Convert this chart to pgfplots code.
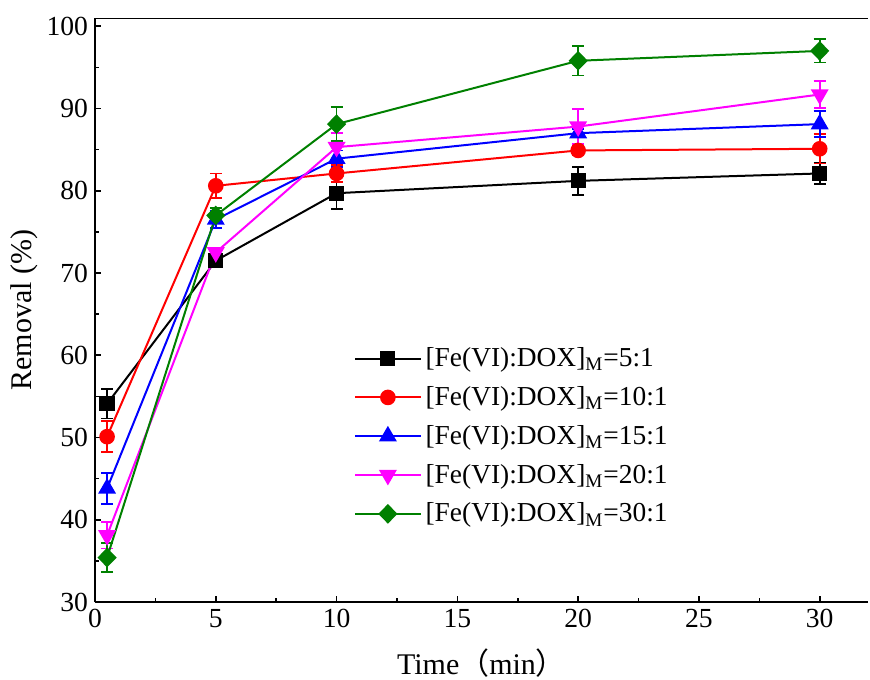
\documentclass[border=0pt]{standalone}
\usepackage{pgfplots}
\pgfplotsset{compat=1.18}
\usepackage{fontspec}
\setmainfont{Liberation Serif}
\newfontfamily\cjk{Noto Sans CJK SC}

\definecolor{cgreen}{RGB}{0,128,0}
\definecolor{cmag}{RGB}{255,0,255}
\definecolor{cred}{RGB}{255,0,0}
\definecolor{cblue}{RGB}{0,0,255}
\newcommand{\ratio}[1]{\relax{}[Fe(VI):DOX]\textsubscript{M}=#1}

\begin{document}
\begin{tikzpicture}
\begin{axis}[
    scale only axis,
    anchor=south west, at={(0,0)},
    width=386.5pt, height=292pt,
    xmin=0, xmax=32, ymin=30, ymax=101,
    xtick={0,5,...,30}, ytick={30,40,...,100},
    minor x tick num=1, minor y tick num=1,
    xtick pos=left, ytick pos=left,
    axis x line*=bottom, axis y line*=left,
    axis line style={line width=1pt},
    every tick/.style={black, line width=0.8pt},
    major tick length=3pt, minor tick length=1.8pt,
    tick label style={font=\fontsize{13.8}{15}\selectfont},
    /pgf/number format/assume math mode=true,
    xlabel={Time{\cjk （}min{\cjk ）}},
    ylabel={Removal (\%)},
    label style={font=\fontsize{15}{17}\selectfont},
    xlabel style={at={(axis description cs:0.5,-0.104)}, anchor=center},
    ylabel style={at={(axis description cs:-0.091,0.5)}, anchor=center},
    legend style={draw=none, fill=none, at={(0.327,0.45)}, anchor=north west,
        font=\fontsize{13.7}{16}\selectfont, row sep=4.4pt,
        /tikz/every even column/.append style={column sep=2pt}},
    legend cell align=left,
    legend image code/.code={
        \draw[#1, mark repeat=2, mark phase=2] plot coordinates {(0cm,0cm) (0.575cm,0cm) (1.15cm,0cm)};},
    every axis plot/.append style={line width=1pt},
    error bars/y dir=both, error bars/y explicit,
    error bars/error bar style={line width=0.9pt},
    error bars/error mark options={rotate=90, mark size=3pt, line width=0.9pt},
]
\addplot[black, mark=square*, mark size=3.3pt, mark options={solid}] coordinates {
    (0.5,54.1) +- (0,1.8)
    (5,71.5) +- (0,0.8)
    (10,79.7) +- (0,1.9)
    (20,81.2) +- (0,1.7)
    (30,82.1) +- (0,1.3)
};
\addlegendentry{\ratio{5:1}}
\addplot[cred, mark=*, mark size=3.4pt] coordinates {
    (0.5,50.1) +- (0,1.9)
    (5,80.6) +- (0,1.5)
    (10,82.1) +- (0,1.0)
    (20,84.9) +- (0,0.6)
    (30,85.1) +- (0,1.8)
};
\addlegendentry{\ratio{10:1}}
\addplot[cblue, mark=triangle*, mark size=4.2pt] coordinates {
    (0.5,43.8) +- (0,1.9)
    (5,76.5) +- (0,1.0)
    (10,83.9) +- (0,1.0)
    (20,87.0) +- (0,0.5)
    (30,88.1) +- (0,1.6)
};
\addlegendentry{\ratio{15:1}}
\addplot[cmag, mark=triangle*, mark size=4.2pt, mark options={rotate=180}] coordinates {
    (0.5,38.1) +- (0,1.6)
    (5,72.5) +- (0,0.6)
    (10,85.3) +- (0,1.7)
    (20,87.8) +- (0,2.1)
    (30,91.7) +- (0,1.6)
};
\addlegendentry{\ratio{20:1}}
\addplot[cgreen, mark=diamond*, mark size=4.2pt, mark options={xscale=1.3}] coordinates {
    (0.5,35.4) +- (0,1.8)
    (5,77.0) +- (0,0.9)
    (10,88.1) +- (0,2.1)
    (20,95.8) +- (0,1.8)
    (30,97.0) +- (0,1.4)
};
\addlegendentry{\ratio{30:1}}
\draw[line width=1pt] (rel axis cs:0,1) -- (rel axis cs:1,1);
\end{axis}
\pgfresetboundingbox
\path (-47.5pt,-38.5pt) rectangle (387.5pt,301pt);
\end{tikzpicture}
\end{document}
